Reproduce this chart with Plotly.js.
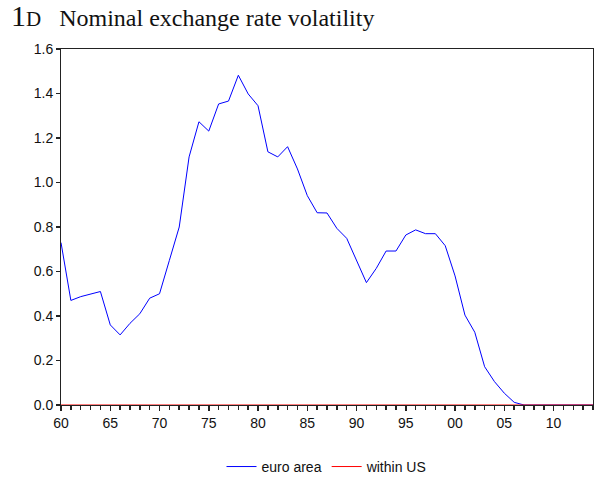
<!DOCTYPE html>
<html>
<head>
<meta charset="utf-8">
<script src="https://cdn.plot.ly/plotly-3.0.1.min.js"></script>
<style>html,body{margin:0;padding:0;background:#fff;}#chart{width:596px;height:487px;}</style>
</head>
<body>
<div id="chart"></div>
<script>
const years = [1960,1961,1962,1963,1964,1965,1966,1967,1968,1969,
               1970,1971,1972,1973,1974,1975,1976,1977,1978,1979,
               1980,1981,1982,1983,1984,1985,1986,1987,1988,1989,
               1990,1991,1992,1993,1994,1995,1996,1997,1998,1999,
               2000,2001,2002,2003,2004,2005,2006,2007,2008,2009,
               2010,2011,2012,2013,2014];
const euroArea = [0.73,0.47,0.487,0.50,0.51,0.36,0.315,0.367,0.41,0.48,
                  0.50,0.65,0.80,1.115,1.273,1.231,1.353,1.366,1.482,1.398,
                  1.345,1.138,1.115,1.161,1.061,0.941,0.864,0.863,0.794,0.749,
                  0.652,0.55,0.614,0.692,0.692,0.764,0.787,0.77,0.77,0.716,
                  0.58,0.404,0.327,0.172,0.105,0.053,0.012,0.0,0.0,0.0,
                  0.0,0.0,0.0,0.0,0.0];
const withinUS = [0,0,0,0,0,0,0,0,0,0,
                  0,0,0,0,0,0,0,0,0,0,
                  0,0,0,0,0,0,0,0,0,0,
                  0,0,0,0,0,0,0,0,0,0,
                  0,0,0,0,0,0,0,0,0,0,
                  0,0,0,0,0];
const yTickVals = [0,0.2,0.4,0.6,0.8,1.0,1.2,1.4,1.6];
const yTickText = ["0.0","0.2","0.4","0.6","0.8","1.0","1.2","1.4","1.6"];

const dates = years.map(y => y + '-01-01');
const xRange = ['1960-01-01','2014-01-01'];

const traces = [
  {x: dates, y: euroArea, type:'scatter', mode:'lines', name:'euro area',
   line:{color:'#0000ff', width:1}},
  {x: dates, y: withinUS, type:'scatter', mode:'lines', name:'within US', xaxis:'x2',
   line:{color:'#ff0000', width:1}}
];
const layout = {
  width:596, height:487,
  margin:{l:61, r:3, t:49, b:82},
  paper_bgcolor:'#fff', plot_bgcolor:'#fff',
  font:{family:'"Liberation Sans", Arial, sans-serif', size:14, color:'#111'},
  showlegend:true,
  legend:{orientation:'h', x:0.5, xanchor:'center', y:-0.174, yanchor:'middle',
          font:{size:14, color:'#111'}, itemwidth:30},
  title:{text:'<span style="font-size:30px">1</span><span style="font-size:21px">D</span>&nbsp;&nbsp;&nbsp;Nominal exchange rate volatility',
         font:{family:'"Liberation Serif", "Times New Roman", serif', size:24, color:'#111'},
         x:11/596, xanchor:'left', xref:'container', yref:'container', y:1-18/487, yanchor:'middle'},
  xaxis:{type:'date', range:xRange, tick0:'1960-01-01', dtick:'M60', tickformat:'%y',
         ticks:'outside', ticklen:5, tickwidth:1.5, tickcolor:'#222', showgrid:false, zeroline:false,
         showline:true, linecolor:'#222', linewidth:1, mirror:true,
         tickfont:{size:14}},
  xaxis2:{type:'date', range:xRange, overlaying:'x', side:'bottom', anchor:'y',
          tick0:'1960-01-01', dtick:'M12', ticks:'outside', ticklen:4, tickwidth:1.5, tickcolor:'#222',
          showticklabels:false, showgrid:false, zeroline:false, showline:false},
  yaxis:{range:[0,1.6], tickmode:'array', tickvals:yTickVals, ticktext:yTickText,
         ticks:'outside', ticklen:4, tickwidth:1.5, tickcolor:'#222', showgrid:false, zeroline:false,
         showline:true, linecolor:'#222', linewidth:1, mirror:true, tickfont:{size:14}}
};
Plotly.newPlot('chart', traces, layout, {staticPlot:true});
</script>
</body>
</html>
